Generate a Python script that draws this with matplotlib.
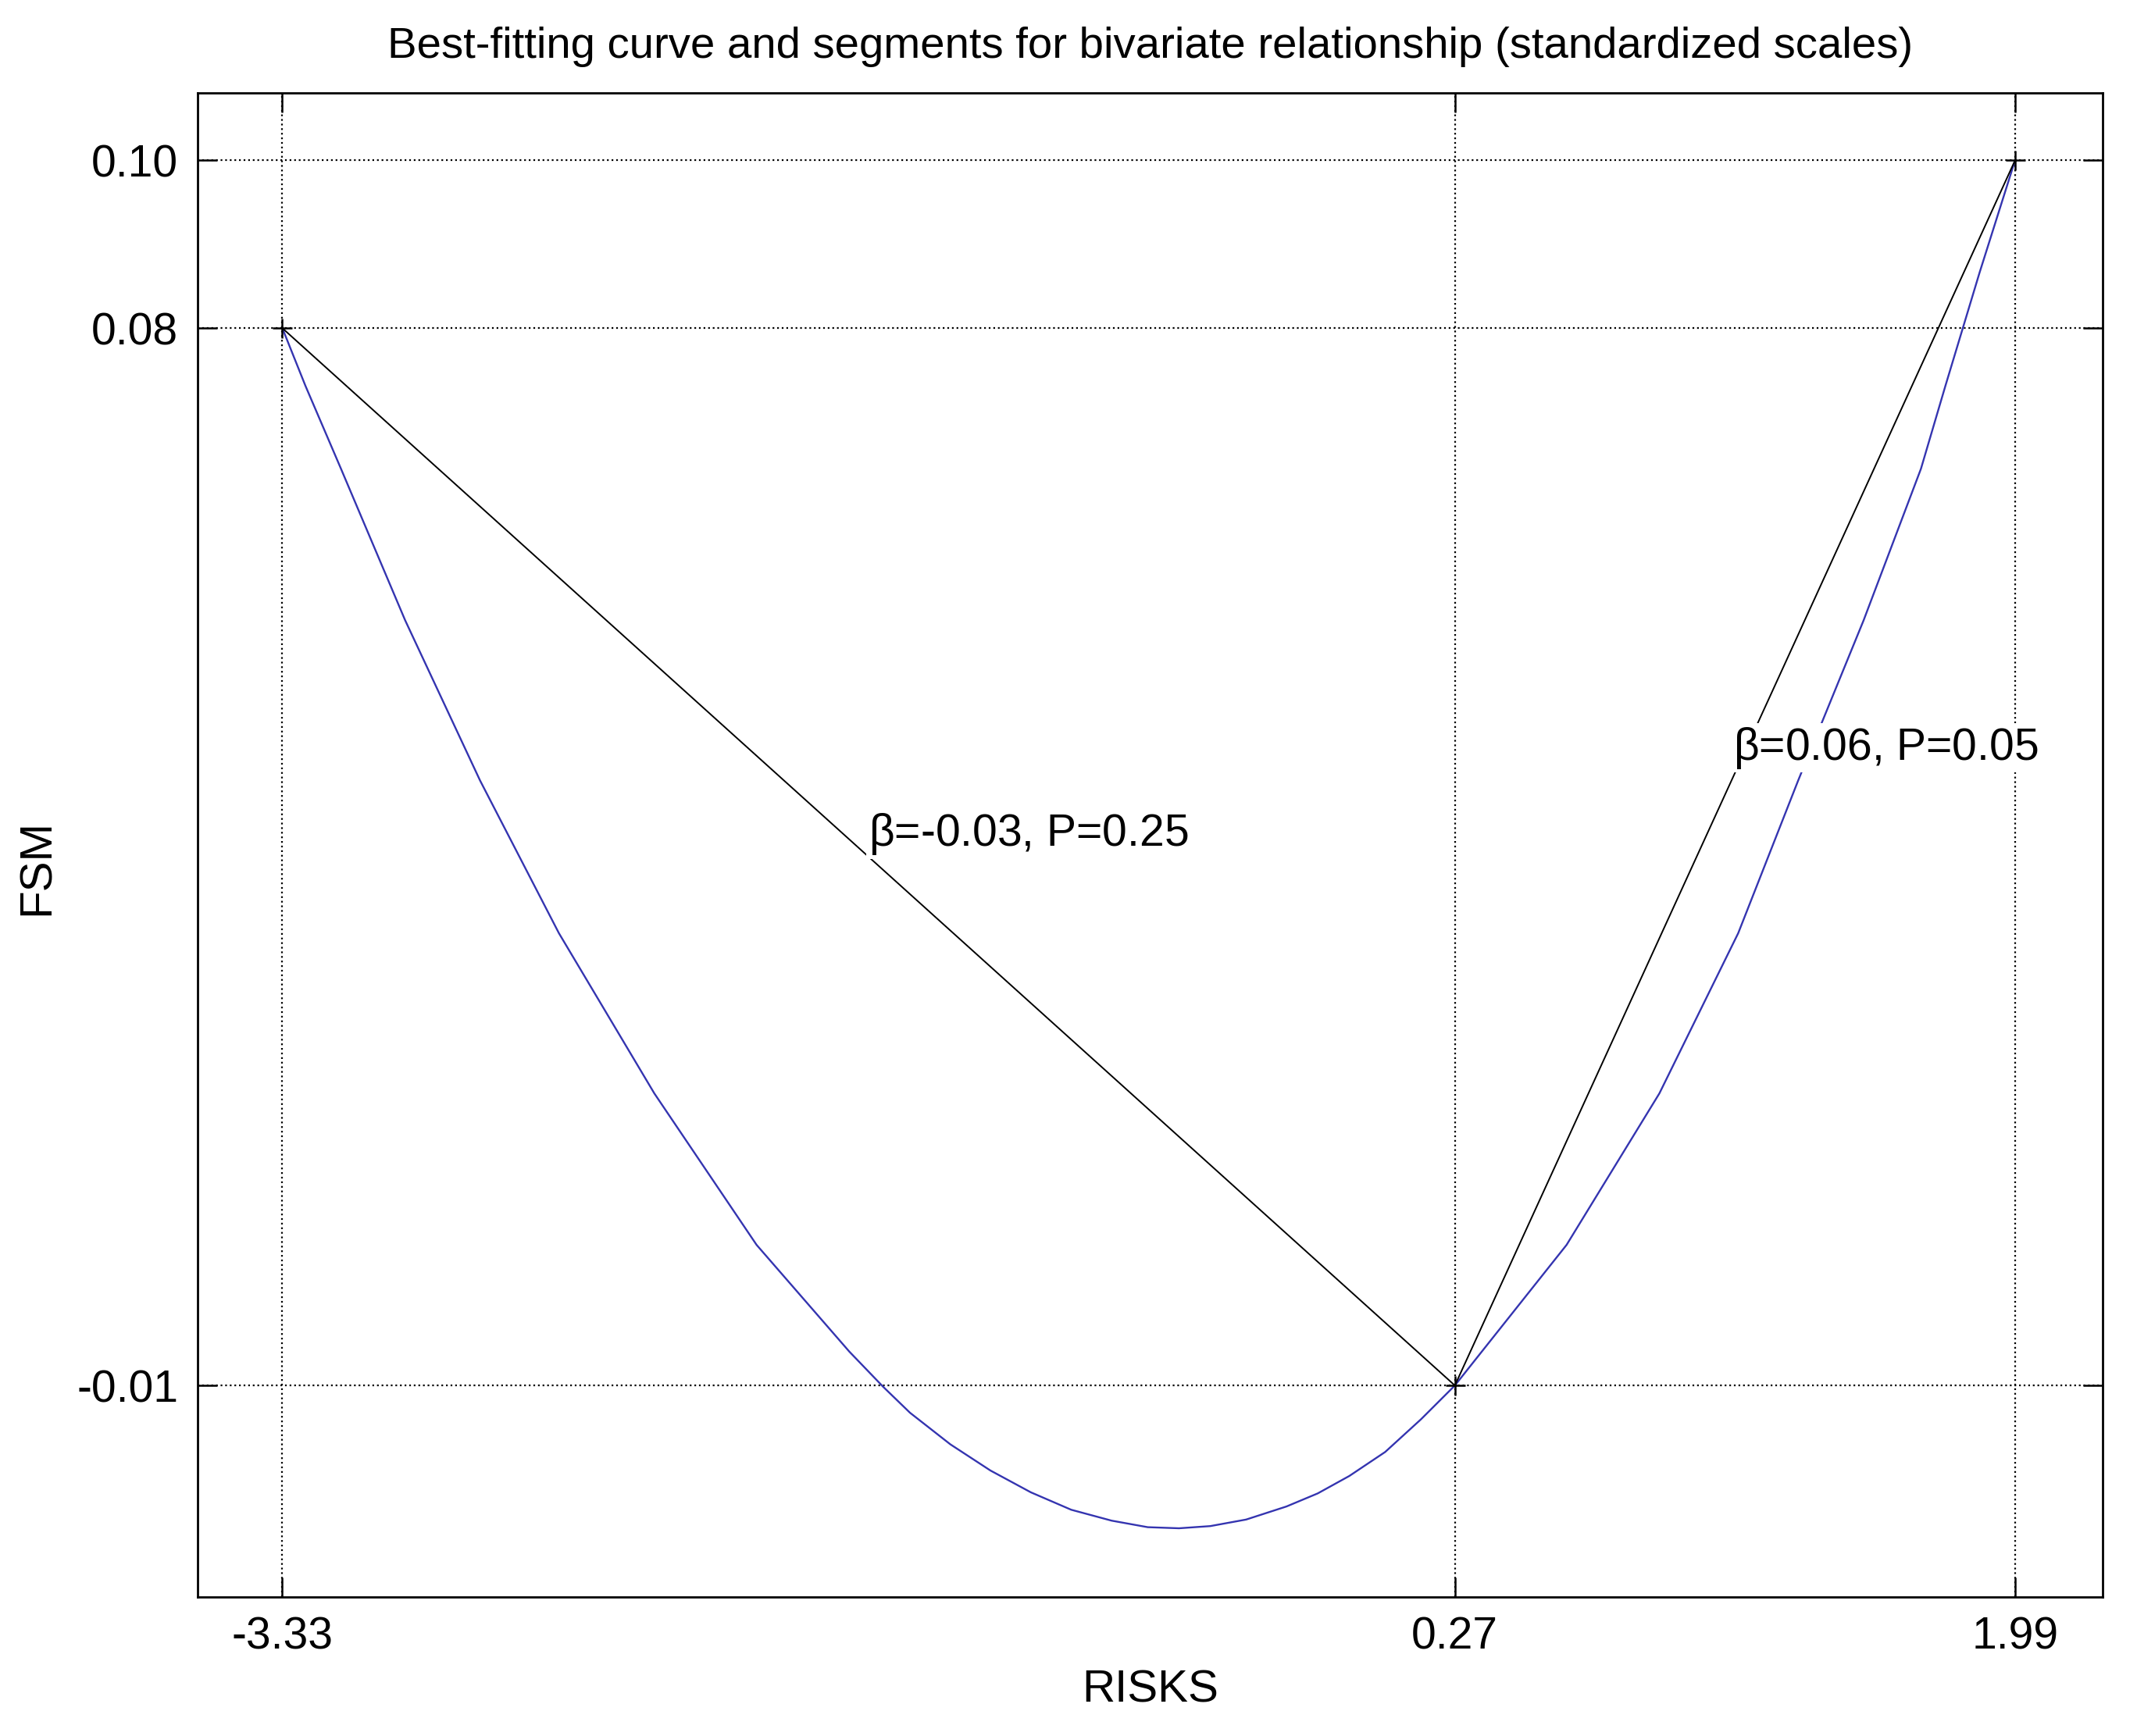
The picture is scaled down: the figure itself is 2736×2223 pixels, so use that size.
import numpy as np
import matplotlib.pyplot as plt

plt.rcParams['font.family'] = ['Liberation Sans', 'DejaVu Sans']

# segment end points (RISKS, FSM); labels show them rounded to 2 decimals
pts_x = [-3.33, 0.27, 1.99]
pts_y = [0.0826, -0.0144, 0.0980]

# best-fitting curve
curve_x = [-3.33, -3.259, -3.150, -2.953, -2.723, -2.481, -2.188, -1.874, -1.589, -1.486,
           -1.403, -1.279, -1.156, -1.032, -0.908, -0.784, -0.673, -0.577, -0.481, -0.371,
           -0.247, -0.151, -0.054, 0.056, 0.166, 0.27, 0.613, 0.898, 1.140, 1.324,
           1.525, 1.701, 1.776, 1.881, 1.99]
curve_y = [0.0826, 0.0773, 0.0697, 0.0558, 0.0411, 0.0271, 0.0124, -0.0015, -0.0113, -0.0145,
           -0.0169, -0.0198, -0.0222, -0.0242, -0.0258, -0.0268, -0.0274, -0.0275, -0.0273, -0.0267,
           -0.0255, -0.0243, -0.0227, -0.0205, -0.0175, -0.0144, -0.0015, 0.0124, 0.0271, 0.0411,
           0.0558, 0.0697, 0.0773, 0.0877, 0.0980]

labels = [r'$\mathregular{\beta}$=-0.03, P=0.25', r'$\mathregular{\beta}$=0.06, P=0.05']
label_xy = [(-1.53, 0.0362), (1.124, 0.0441)]

fig = plt.figure(figsize=(13.68, 11.115), dpi=200)
ax = fig.add_axes([0.0925, 0.0801, 0.8916, 0.8665])

ax.plot(curve_x, curve_y, '-', color='#3434b0', lw=0.85, zorder=3)
ax.plot(pts_x, pts_y, '-', color='black', lw=0.7, zorder=3)
ax.plot(pts_x, pts_y, '+', color='black', ms=9, mew=0.9, zorder=4)

for s, (tx, ty) in zip(labels, label_xy):
    ax.text(tx, ty, s, fontsize=20.5, ha='left', va='center', zorder=5,
            bbox=dict(facecolor='white', edgecolor='none', pad=1))

ax.set_xlim(-3.59, 2.26)
ax.set_ylim(-0.0338, 0.1042)
ax.set_xticks(pts_x)
ax.set_xticklabels(['%.2f' % v for v in pts_x])
yt = sorted(pts_y)
ax.set_yticks(yt)
ax.set_yticklabels(['%.2f' % v for v in yt])

ax.grid(True, linestyle=':', color='black', lw=0.8)
ax.tick_params(direction='in', length=9, width=0.9, labelsize=20.5,
               top=True, right=True, pad=9)
for sp in ax.spines.values():
    sp.set_linewidth(1.0)

ax.set_xlabel('RISKS', fontsize=21, labelpad=5)
ax.set_ylabel('FSM', fontsize=21)
ax.yaxis.set_label_coords(-0.073, 0.485)
ax.set_title('Best-fitting curve and segments for bivariate relationship (standardized scales)',
             fontsize=20.3, pad=16)

plt.savefig('out.png')
